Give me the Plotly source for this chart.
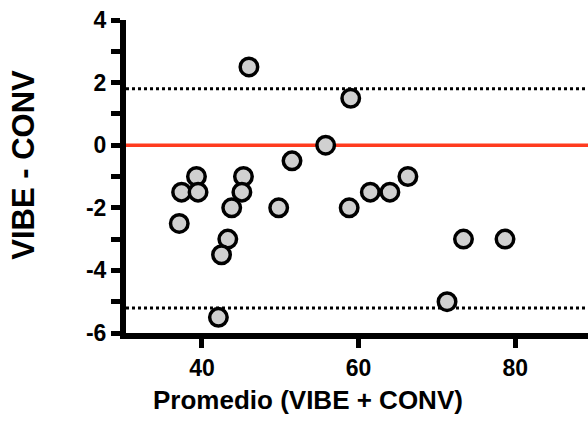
import plotly.graph_objects as go

# Bland-Altman data
promedio = [46.0, 59.0, 55.8, 51.5, 66.3, 61.5, 64.0, 58.8, 49.8,
            39.3, 45.3, 37.4, 39.5, 45.1, 43.8, 37.1, 43.3, 42.5, 42.1,
            73.4, 78.7, 71.3]
diferencia = [2.5, 1.5, 0.0, -0.5, -1.0, -1.5, -1.5, -2.0, -2.0,
              -1.0, -1.0, -1.5, -1.5, -1.5, -2.0, -2.5, -3.0, -3.5, -5.5,
              -3.0, -3.0, -5.0]
linea_cero = 0.0
limites = [1.8, -5.2]

x_range = [30.3, 89.3]
y_range = [-6, 4]
x_tickvals = [40, 60, 80]
x_ticktext = ["40", "60", "80"]
y_tickvals = [-6, -4, -2, 0, 2, 4]
y_ticktext = ["-6", "-4", "-2", "0", "2", "4"]

FONT = "Liberation Sans, Arial, sans-serif"

fig = go.Figure()
fig.add_trace(go.Scatter(
    x=promedio, y=diferencia, mode="markers",
    marker=dict(size=17.5, color="#d0d0d0", line=dict(color="black", width=3.5)),
    cliponaxis=False, showlegend=False,
))

fig.add_hline(y=linea_cero, line=dict(color="#ff3b1f", width=3.5), layer="below")
for lim in limites:
    fig.add_hline(y=lim, line=dict(color="black", width=3, dash="dot"), layer="below")

fig.update_layout(
    width=588, height=422,
    margin=dict(l=126, r=0, t=19.5, b=89),
    plot_bgcolor="white", paper_bgcolor="white",
    font=dict(family=FONT, color="black"),
    showlegend=False,
    annotations=[
        dict(text="<b>Promedio (VIBE + CONV)</b>", xref="paper", yref="paper",
             x=(307.5 - 126) / 462, y=(333 - 400) / 313.5,
             xanchor="center", yanchor="middle", showarrow=False,
             font=dict(family=FONT, size=26, color="black")),
        dict(text="<b>VIBE - CONV</b>", xref="paper", yref="paper",
             x=(24 - 126) / 462, y=(333 - 164.5) / 313.5, textangle=-90,
             xanchor="center", yanchor="middle", showarrow=False,
             font=dict(family=FONT, size=31, color="black")),
    ],
)
fig.update_xaxes(
    range=x_range, showgrid=False, zeroline=False,
    showline=True, linecolor="black", linewidth=6,
    ticks="outside", ticklen=9, tickwidth=5, tickcolor="black",
    tickmode="array", tickvals=x_tickvals, ticktext=x_ticktext,
    tickfont=dict(family=FONT, size=23, color="black", weight="bold"),
)
fig.update_yaxes(
    range=y_range, showgrid=False, zeroline=False,
    showline=True, linecolor="black", linewidth=6,
    ticks="outside", ticklen=9, tickwidth=5, tickcolor="black",
    tickmode="array", tickvals=y_tickvals, ticktext=y_ticktext,
    minor=dict(dtick=1, tick0=0, ticks="outside", ticklen=9, tickwidth=5, tickcolor="black", showgrid=False),
    tickfont=dict(family=FONT, size=23, color="black", weight="bold"),
)

fig.write_html("out.html")
